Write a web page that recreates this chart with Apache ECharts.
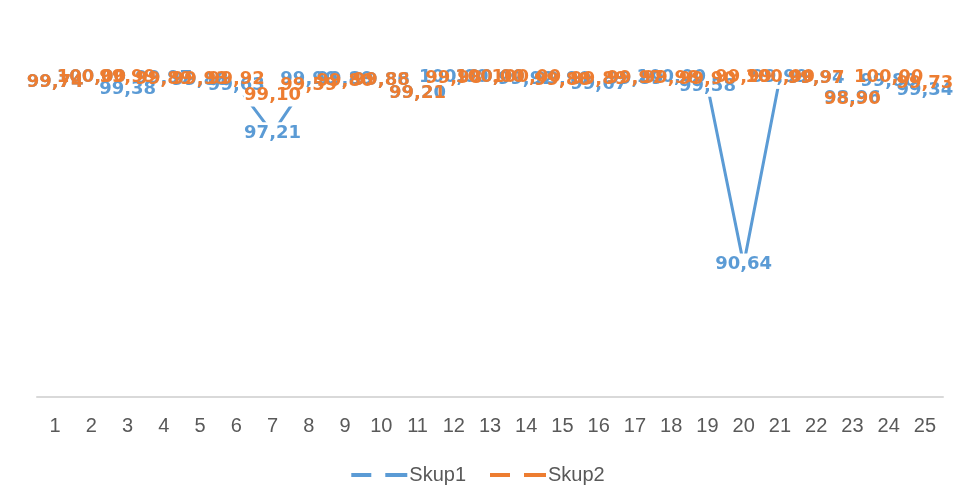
<!DOCTYPE html>
<html>
<head>
<meta charset="utf-8">
<script src="https://cdn.jsdelivr.net/npm/echarts@6/dist/echarts.min.js"></script>
<style>
html,body{margin:0;padding:0;background:#fff;}
#chart{width:956px;height:502px;}
</style>
</head>
<body>
<div id="chart"></div>
<script>
const categories = ['1','2','3','4','5','6','7','8','9','10','11','12','13','14','15','16','17','18','19','20','21','22','23','24','25'];
const skup1 = [99.74, 100.00, 99.38, 99.97, 99.88, 99.63, 97.21, 99.90, 99.89, 99.86, 99.20, 100.00, 100.00, 99.92, 99.90, 99.67, 99.89, 100.00, 99.58, 90.64, 99.99, 99.94, 98.96, 99.80, 99.34];
const skup2 = [99.74, 100.00, 99.99, 99.89, 99.93, 99.92, 99.10, 99.59, 99.80, 99.88, 99.21, 99.98, 100.00, 100.00, 99.88, 99.89, 99.97, 99.98, 99.90, 99.99, 100.00, 99.97, 98.90, 100.00, 99.73];
const seriesNames = ['Skup1', 'Skup2'];
const colors = ['#5B9BD5', '#ED7D31'];

const fmt = v => v.toFixed(2).replace('.', ',');
const chart = echarts.init(document.getElementById('chart'));
const data = [skup1, skup2];

const series = [];
data.forEach((d, i) => {
  series.push({
    name: seriesNames[i], type: 'line', data: d, z: 1,
    showSymbol: false, symbol: 'none',
    lineStyle: { color: colors[i], width: 3 },
    itemStyle: { color: colors[i] },
    animation: false, silent: true
  });
});
data.forEach((d, i) => {
  series.push({
    name: 'mask' + i, type: 'scatter', data: d, z: 2,
    symbol: 'rect', symbolSize: [58, 22],
    itemStyle: { color: '#ffffff', opacity: 1 },
    animation: false, silent: true
  });
});
data.forEach((d, i) => {
  series.push({
    name: 'lab' + i, type: 'scatter', data: d, z: 3 + i,
    symbolSize: 1, itemStyle: { color: '#ffffff', opacity: 0 },
    label: {
      show: true, position: 'inside', opacity: 1,
      formatter: p => fmt(p.value),
      color: colors[i], fontFamily: 'DejaVu Sans', fontWeight: 'bold', fontSize: 18
    },
    labelLayout: { hideOverlap: false },
    animation: false, silent: true
  });
});

chart.setOption({
  animation: false,
  backgroundColor: '#ffffff',
  grid: { left: 37, right: 13, top: 37.5, bottom: 105 },
  legend: {
    data: seriesNames.map((n, i) => ({ name: n, icon: 'path://M0,0h20v4h-20z M34,0h22v4h-22z', itemStyle: { color: colors[i] } })),
    bottom: 12, left: 'center',
    itemWidth: 56, itemHeight: 4, itemGap: 24,
    textStyle: { fontFamily: 'Liberation Sans', fontSize: 20, color: '#595959', padding: [0,0,0,-3] }
  },
  xAxis: {
    type: 'category', data: categories, boundaryGap: true,
    axisLine: { show: true, lineStyle: { color: '#D9D9D9', width: 2 } },
    axisTick: { show: false },
    axisLabel: { fontFamily: 'Liberation Sans', fontSize: 20, color: '#595959', margin: 19, interval: 0 }
  },
  yAxis: {
    type: 'value', min: 84, max: 102, interval: 2, show: false,
    splitLine: { show: false }
  },
  series: series
});
</script>
</body>
</html>
